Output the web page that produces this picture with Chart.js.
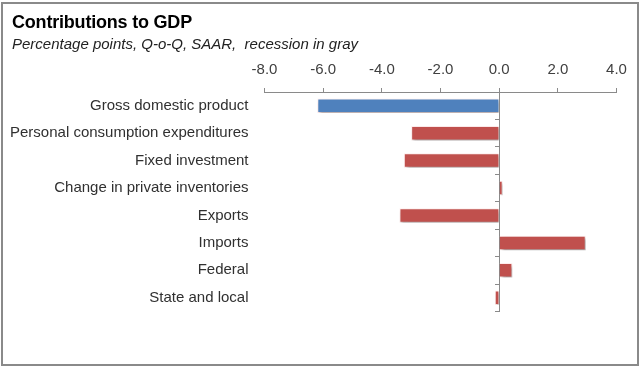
<!DOCTYPE html>
<html>
<head>
<meta charset="utf-8">
<script src="https://cdn.jsdelivr.net/npm/chart.js@4"></script>
<style>
  body { margin: 0; background: #fff; }
  #wrap { position: relative; width: 640px; height: 367px; }
  #frame { position: absolute; left: 1px; top: 2px; width: 634px; height: 360px; border: 2px solid #8a8a8a; }
  #title { position: absolute; left: 12px; top: 12px; font: bold 18px Arial, "Liberation Sans", sans-serif; color: #000; letter-spacing: -0.2px; }
  #subtitle { position: absolute; left: 12px; top: 35px; font: italic 15px Arial, "Liberation Sans", sans-serif; color: #222; }
  canvas { position: absolute; left: 0; top: 0; }
</style>
</head>
<body>
<div id="wrap">
  <div id="frame"></div>
  <canvas id="myChart" width="640" height="367"></canvas>
  <div id="title">Contributions to GDP</div>
  <div id="subtitle">Percentage points, Q-o-Q, SAAR,&nbsp; recession in gray</div>
</div>
<script>
const categories = [
  'Gross domestic product',
  'Personal consumption expenditures',
  'Fixed investment',
  'Change in private inventories',
  'Exports',
  'Imports',
  'Federal',
  'State and local'
];
const contributions = [-6.2, -3.0, -3.25, 0.12, -3.4, 2.95, 0.45, -0.15];
const barColors = ['#4F81BD', '#C0504D', '#C0504D', '#C0504D', '#C0504D', '#C0504D', '#C0504D', '#C0504D'];
const xTicks = [-8, -6, -4, -2, 0, 2, 4];

// soft drop shadow like the spreadsheet bars
const barShadow = {
  id: 'barShadow',
  beforeDatasetsDraw(chart) {
    const ctx = chart.ctx;
    ctx.save();
    ctx.shadowColor = 'rgba(0,0,0,0.35)';
    ctx.shadowBlur = 3;
    ctx.shadowOffsetX = 2;
    ctx.shadowOffsetY = 2.5;
  },
  afterDatasetsDraw(chart) {
    chart.ctx.restore();
  }
};

function createChart() {
  const ctx = document.getElementById('myChart').getContext('2d');
  const labelFont = { family: 'Arial, "Liberation Sans", sans-serif', size: 15 };

  new Chart(ctx, {
    type: 'bar',
    data: {
      labels: categories,
      datasets: [{
        data: contributions,
        backgroundColor: barColors,
        borderColor: 'rgba(255,235,235,0.9)',
        borderWidth: 1,
        barPercentage: 0.53,
        categoryPercentage: 1,
        yAxisID: 'y'
      }]
    },
    options: {
      indexAxis: 'y',
      responsive: false,
      animation: false,
      layout: { padding: { left: 0, right: 23.5, top: 0, bottom: 55.5 } },
      plugins: {
        legend: { display: false },
        tooltip: { enabled: false }
      },
      scales: {
        x: {
          position: 'top',
          min: xTicks[0],
          max: xTicks[xTicks.length - 1],
          afterBuildTicks: function (scale) {
            scale.ticks = xTicks.map(v => ({ value: v }));
          },
          afterFit: function (scale) { scale.height = 92; },
          ticks: {
            color: '#404040',
            font: labelFont,
            padding: 9,
            maxRotation: 0,
            callback: v => v.toFixed(1)
          },
          grid: {
            drawOnChartArea: false,
            tickLength: 4,
            tickColor: '#8a8a8a'
          },
          border: { color: '#8a8a8a', width: 1 }
        },
        y: {
          position: 'left',
          afterFit: function (scale) { scale.width = 264.5; },
          ticks: { color: '#303030', font: labelFont, padding: 16 },
          grid: { display: false, drawTicks: false },
          border: { display: false }
        },
        y2: {
          type: 'category',
          labels: categories,
          position: { x: 0 },
          ticks: { display: false },
          grid: {
            offset: true,
            drawOnChartArea: false,
            tickLength: 4,
            tickColor: '#8a8a8a'
          },
          border: { color: '#8a8a8a', width: 1 }
        }
      }
    },
    plugins: [barShadow]
  });
}

window.onload = createChart;
</script>
</body>
</html>
